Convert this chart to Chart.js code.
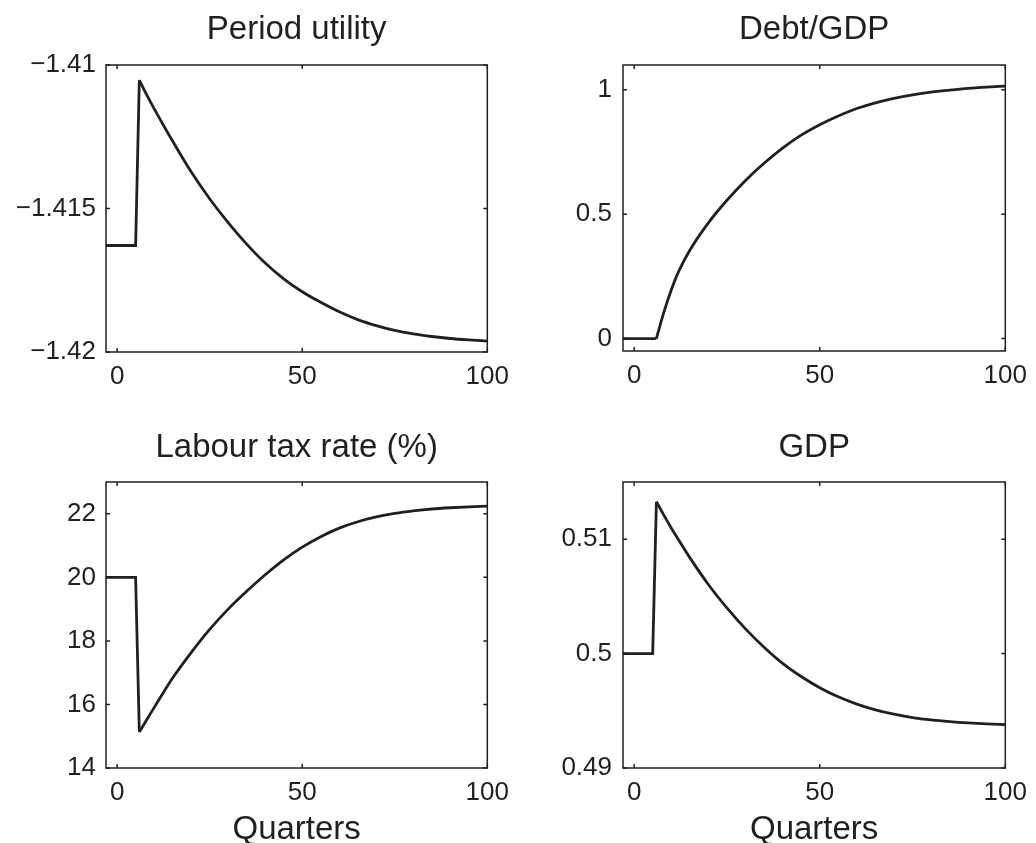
<!DOCTYPE html>
<html>
<head>
<meta charset="utf-8">
<script src="https://cdn.jsdelivr.net/npm/chart.js@4.4.1/dist/chart.umd.min.js"></script>
<style>
  html, body { margin: 0; padding: 0; background: #fff; }
  #wrap { position: relative; width: 1036px; height: 843px; overflow: hidden; }
  canvas { position: absolute; display: block; }
</style>
</head>
<body>
<div id="wrap">
  <canvas id="utility" width="518" height="421" style="left:0;top:0"></canvas>
  <canvas id="debt" width="518" height="421" style="left:518px;top:0"></canvas>
  <canvas id="tax" width="518" height="422" style="left:0;top:421px"></canvas>
  <canvas id="gdp" width="518" height="422" style="left:518px;top:421px"></canvas>
</div>
<script>
// quarters shared by all four panels; the shock hits between quarter 5 and 6
const quarters = [-3, 5, 6, 8, 10, 12, 15, 20, 25, 30, 35, 40, 45, 50, 55, 60, 65, 70, 75, 80, 85, 90, 95, 100];
const shockIndex = 2;

const periodUtility = [-1.41629, -1.41629, -1.41053, -1.41104, -1.41152, -1.41198, -1.41265, -1.41372,
  -1.41466, -1.41549, -1.41624, -1.41690, -1.41745, -1.41790, -1.41827, -1.41860, -1.41887, -1.41908,
  -1.41925, -1.41937, -1.41946, -1.41953, -1.41958, -1.41962];
const debtGdp = [0, 0, 0, 0.105, 0.195, 0.27, 0.355, 0.465, 0.556, 0.636, 0.705, 0.766, 0.818, 0.860,
  0.895, 0.925, 0.948, 0.966, 0.980, 0.991, 0.999, 1.006, 1.011, 1.015];
const labourTax = [20, 20, 15.13, 15.52, 15.9, 16.28, 16.83, 17.63, 18.36, 19.0, 19.56, 20.08, 20.55,
  20.95, 21.28, 21.55, 21.75, 21.9, 22.01, 22.09, 22.15, 22.19, 22.22, 22.24];
const gdp = [0.5, 0.5, 0.51328, 0.51210, 0.51098, 0.50993, 0.50839, 0.50604, 0.50399, 0.50216, 0.50056,
  0.49915, 0.49800, 0.49702, 0.49622, 0.49558, 0.49508, 0.49470, 0.49441, 0.49420, 0.49405, 0.49394,
  0.49386, 0.49380];

const xTicks = [0, 50, 100];
const utilityTicks = [-1.42, -1.415, -1.41];
const debtTicks = [0, 0.5, 1];
const taxTicks = [14, 16, 18, 20, 22];
const gdpTicks = [0.49, 0.5, 0.51];

const ink = '#231f20';
const family = '"Liberation Sans", Arial, Helvetica, sans-serif';

// matlab style box with inward ticks on all four sides
const boxPlugin = {
  id: 'box',
  afterDatasetsDraw(chart) {
    const { ctx, chartArea: a, scales } = chart;
    ctx.save();
    ctx.strokeStyle = ink;
    ctx.lineWidth = 1.5;
    ctx.strokeRect(a.left, a.top, a.right - a.left, a.bottom - a.top);
    ctx.beginPath();
    scales.x.ticks.forEach(t => {
      const px = scales.x.getPixelForValue(t.value);
      ctx.moveTo(px, a.bottom); ctx.lineTo(px, a.bottom - 4);
      ctx.moveTo(px, a.top); ctx.lineTo(px, a.top + 4);
    });
    scales.y.ticks.forEach(t => {
      const py = scales.y.getPixelForValue(t.value);
      ctx.moveTo(a.left, py); ctx.lineTo(a.left + 4, py);
      ctx.moveTo(a.right, py); ctx.lineTo(a.right - 4, py);
    });
    ctx.stroke();
    ctx.restore();
  }
};

function fmt(v) {
  return String(v).replace('-', '\u2212');
}

function points(values, from, to) {
  return quarters.slice(from, to).map((q, i) => ({ x: q, y: values[from + i] }));
}

function makePanel(id, o) {
  const line = { borderColor: ink, borderWidth: 2.8, pointRadius: 0, fill: false, borderJoinStyle: 'miter' };
  return new Chart(document.getElementById(id), {
    type: 'line',
    data: {
      datasets: [
        // steady state and the jump: straight segments
        Object.assign({ data: points(o.values, 0, shockIndex + 1), tension: 0 }, line),
        // adjustment path after the shock: smooth
        Object.assign({ data: points(o.values, shockIndex), cubicInterpolationMode: 'monotone' }, line)
      ]
    },
    options: {
      responsive: false,
      animation: false,
      layout: { padding: { left: 0, right: o.padRight, top: 0, bottom: 0 } },
      plugins: {
        legend: { display: false },
        tooltip: { enabled: false },
        title: {
          display: true,
          text: o.title,
          fullSize: false,
          color: ink,
          font: { family: family, size: 33, weight: 'normal', lineHeight: 1.2 },
          padding: { top: o.titleTop, bottom: o.titleBottom }
        }
      },
      scales: {
        x: {
          type: 'linear',
          min: -3,
          max: 100,
          grid: { display: false, drawTicks: false },
          border: { display: false },
          afterBuildTicks: s => { s.ticks = xTicks.map(v => ({ value: v })); },
          afterFit: s => { s.height = o.xHeight; },
          ticks: { color: ink, font: { family: family, size: 26 }, padding: 9, maxRotation: 0, autoSkip: false },
          title: {
            display: !!o.xLabel,
            text: o.xLabel || '',
            color: ink,
            font: { family: family, size: 33, lineHeight: 0.8 },
            padding: 0
          }
        },
        y: {
          type: 'linear',
          min: o.yMin,
          max: o.yMax,
          grid: { display: false, drawTicks: false },
          border: { display: false },
          afterBuildTicks: s => { s.ticks = o.yTicks.map(v => ({ value: v })); },
          afterFit: s => { s.width = o.yWidth; },
          ticks: { color: ink, font: { family: family, size: 26 }, padding: o.yPad, autoSkip: false, callback: v => fmt(v) }
        }
      }
    },
    plugins: [boxPlugin]
  });
}

makePanel('utility', {
  title: 'Period utility', values: periodUtility, yMin: -1.42, yMax: -1.41, yTicks: utilityTicks,
  yWidth: 106, padRight: 29, xHeight: 69, titleTop: 10, titleBottom: 15.4, yPad: 10
});
makePanel('debt', {
  title: 'Debt/GDP', values: debtGdp, yMin: -0.05, yMax: 1.1, yTicks: debtTicks,
  yWidth: 105, padRight: 25, xHeight: 70, titleTop: 10, titleBottom: 15.4, yPad: 11
});
makePanel('tax', {
  title: 'Labour tax rate (%)', values: labourTax, yMin: 14, yMax: 23, yTicks: taxTicks,
  yWidth: 106, padRight: 29, xHeight: 75, titleTop: 7.2, titleBottom: 14.2, yPad: 10, xLabel: 'Quarters'
});
makePanel('gdp', {
  title: 'GDP', values: gdp, yMin: 0.49, yMax: 0.515, yTicks: gdpTicks,
  yWidth: 105, padRight: 25, xHeight: 75, titleTop: 7.2, titleBottom: 14.2, yPad: 11, xLabel: 'Quarters'
});
</script>
</body>
</html>
